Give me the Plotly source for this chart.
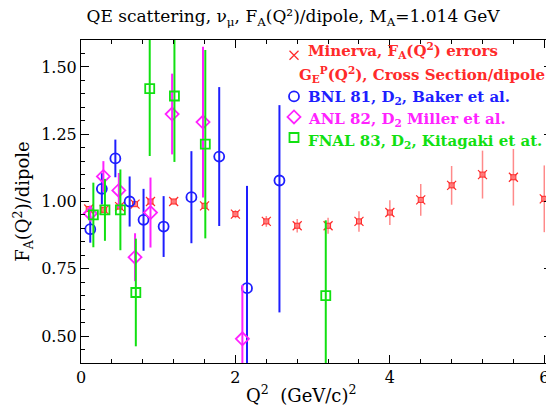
import plotly.graph_objects as go

# ---------------- data ----------------
minerva_q2 = [0.1, 0.3, 0.5, 0.7, 0.9, 1.2, 1.6, 2.0, 2.4, 2.8, 3.2, 3.6, 4.0, 4.4, 4.8, 5.2, 5.6, 6.0]
minerva_fa = [0.972, 0.969, 0.981, 0.990, 1.000, 1.000, 0.984, 0.953, 0.926, 0.910, 0.910, 0.926, 0.959, 1.006, 1.060, 1.100, 1.090, 1.010]
minerva_err = [0.010, 0.008, 0.008, 0.008, 0.010, 0.010, 0.012, 0.015, 0.020, 0.025, 0.030, 0.038, 0.046, 0.059, 0.072, 0.089, 0.105, 0.124]

bnl_q2 = [0.12, 0.27, 0.445, 0.63, 0.81, 1.07, 1.43, 1.79, 2.15, 2.57]
bnl_fa = [0.897, 1.047, 1.160, 1.000, 0.932, 0.907, 1.016, 1.167, 0.678, 1.078]
bnl_err_plus = [0.050, 0.058, 0.070, 0.093, 0.115, 0.113, 0.171, 0.258, 0.380, 0.280]
bnl_err_minus = [0.050, 0.058, 0.070, 0.093, 0.115, 0.113, 0.171, 0.258, 0.380, 0.490]

anl_q2 = [0.12, 0.29, 0.49, 0.70, 0.90, 1.18, 1.58, 2.09]
anl_fa = [0.955, 1.093, 1.041, 0.793, 0.959, 1.325, 1.295, 0.490]
anl_err = [0.030, 0.057, 0.065, 0.089, 0.130, 0.150, 0.280, 0.200]

fnal_q2 = [0.16, 0.31, 0.51, 0.71, 0.89, 1.21, 1.61, 3.17]
fnal_fa = [0.950, 0.969, 0.969, 0.662, 1.419, 1.392, 1.213, 0.650]
fnal_err = [0.120, 0.115, 0.150, 0.200, 0.250, 0.245, 0.350, 0.280]

legend_minerva_1 = "Minerva, F<sub>A</sub>(Q<sup>2</sup>) errors"
legend_minerva_2 = "G<sub>E</sub><sup>P</sup>(Q<sup>2</sup>), Cross Section/dipole"
legend_bnl = "BNL 81, D<sub>2</sub>, Baker et al."
legend_anl = "ANL 82, D<sub>2</sub> Miller et al."
legend_fnal = "FNAL 83, D<sub>2</sub>, Kitagaki et at."
x_title = "Q<sup>2</sup>\u00a0\u00a0(GeV/c)<sup>2</sup>"
y_title = "F<sub>A</sub>(Q<sup>2</sup>)/dipole"
title_text = "QE scattering, ν<sub>μ</sub>, F<sub>A</sub>(Q²)/dipole, M<sub>A</sub>=1.014 GeV"

# ---------------- style ----------------
RED = "#ff2a2a"
RED_LIGHT = "#ff8a8a"
BLUE = "#1e1eff"
MAGENTA = "#ff22ff"
GREEN = "#11e011"
SERIF = "DejaVu Serif"
NB = "\u00a0"

# the page body has an 8px margin, so the figure is drawn 8px right/down;
# keep the page from overflowing the 554x417 window
PAGE_OFF = 8
W, H = 554 - PAGE_OFF, 417 - 2 * PAGE_OFF
ML, MR, MT = 81 - PAGE_OFF, 2, 40 - PAGE_OFF
MB = (PAGE_OFF + H) - 363
PW, PH = W - ML - MR, H - MT - MB


def page_to_paper(px, py):
    fx, fy = px - PAGE_OFF, py - PAGE_OFF
    return (fx - ML) / PW, (H - MB - fy) / PH


fig = go.Figure()

fig.add_trace(go.Scatter(
    x=minerva_q2, y=minerva_fa, mode="markers",
    error_y=dict(type="data", array=minerva_err, color=RED_LIGHT, thickness=1.5, width=0),
    marker=dict(symbol="x-thin-open", size=9, color=RED, line=dict(color=RED, width=1.2)),
    name=NB, legendgroup="g",
))
fig.add_trace(go.Scatter(
    x=minerva_q2, y=minerva_fa, mode="markers",
    marker=dict(symbol="square", size=5, color="rgba(255,130,130,0.85)", line=dict(color=RED, width=1)),
    showlegend=False, legendgroup="g", hoverinfo="skip",
))
# empty legend row (second line of the Minerva entry)
fig.add_trace(go.Scatter(
    x=[None], y=[None], mode="markers",
    marker=dict(symbol="circle", size=1, color="rgba(0,0,0,0)"),
    name=NB, legendgroup="g", hoverinfo="skip",
))
fig.add_trace(go.Scatter(
    x=bnl_q2, y=bnl_fa, mode="markers",
    error_y=dict(type="data", array=bnl_err_plus, arrayminus=bnl_err_minus, color=BLUE, thickness=2, width=0),
    marker=dict(symbol="circle-open", size=10, color=BLUE, line=dict(color=BLUE, width=1.8)),
    name=NB, legendgroup="g",
))
fig.add_trace(go.Scatter(
    x=anl_q2, y=anl_fa, mode="markers",
    error_y=dict(type="data", array=anl_err, color=MAGENTA, thickness=2, width=0),
    marker=dict(symbol="diamond-open", size=10, color=MAGENTA, line=dict(color=MAGENTA, width=1.8)),
    name=NB, legendgroup="g",
))
fig.add_trace(go.Scatter(
    x=fnal_q2, y=fnal_fa, mode="markers",
    error_y=dict(type="data", array=fnal_err, color=GREEN, thickness=2, width=0),
    marker=dict(symbol="square-open", size=9, color=GREEN, line=dict(color=GREEN, width=1.8)),
    name=NB, legendgroup="g",
))

# legend texts as annotations (positions in page pixels)
legend_texts = [
    (legend_minerva_1, RED, 306, 51),
    (legend_minerva_2, RED, 297, 74),
    (legend_bnl, BLUE, 306, 97),
    (legend_anl, MAGENTA, 306, 119),
    (legend_fnal, GREEN, 306, 141),
]
annotations = []
for txt, col, px, py in legend_texts:
    ax, ay = page_to_paper(px, py)
    annotations.append(dict(
        text="<b>%s</b>" % txt, xref="paper", yref="paper", x=ax, y=ay,
        xanchor="left", yanchor="middle", showarrow=False,
        font=dict(family=SERIF, size=15, color=col),
    ))

# x axis title placed as an annotation (left of the plot centre, as in the original)
xt_x, xt_y = page_to_paper(301, 394)
annotations.append(dict(
    text=x_title, xref="paper", yref="paper", x=xt_x, y=xt_y,
    xanchor="center", yanchor="middle", showarrow=False,
    font=dict(family=SERIF, size=18, color="black"),
))

axis_common = dict(
    showline=True, linecolor="black", linewidth=1, mirror="ticks",
    ticks="inside", ticklen=8, tickcolor="black", tickwidth=1,
    showgrid=False, zeroline=False, automargin=False,
    tickfont=dict(family=SERIF, size=16, color="black"),
)

lx, ly = page_to_paper(274, 40)

fig.update_layout(
    width=W, height=H,
    margin=dict(l=ML, r=MR, t=MT, b=MB),
    paper_bgcolor="white", plot_bgcolor="white",
    title=dict(
        text=title_text,
        x=(293 - PAGE_OFF) / W, xanchor="center", y=1 - (16 - PAGE_OFF) / H, yanchor="middle",
        font=dict(family=SERIF, size=17, color="black"),
    ),
    xaxis=dict(
        range=[0, 6.1], dtick=2, tick0=0,
        minor=dict(dtick=0.4, ticks="inside", ticklen=4, tickcolor="black"),
        **axis_common,
    ),
    yaxis=dict(
        range=[0.40, 1.60], dtick=0.25, tick0=0.5, tickformat=".2f",
        minor=dict(dtick=0.05, ticks="inside", ticklen=4, tickcolor="black"),
        title=dict(text=y_title, font=dict(family=SERIF, size=18, color="black"), standoff=6),
        **axis_common,
    ),
    legend=dict(
        x=lx, y=ly, xanchor="left", yanchor="top",
        bgcolor="rgba(0,0,0,0)", borderwidth=0,
        font=dict(family=SERIF, size=13.5),
        tracegroupgap=0,
    ),
    annotations=annotations,
    showlegend=True,
)

fig.write_html("out.html")
